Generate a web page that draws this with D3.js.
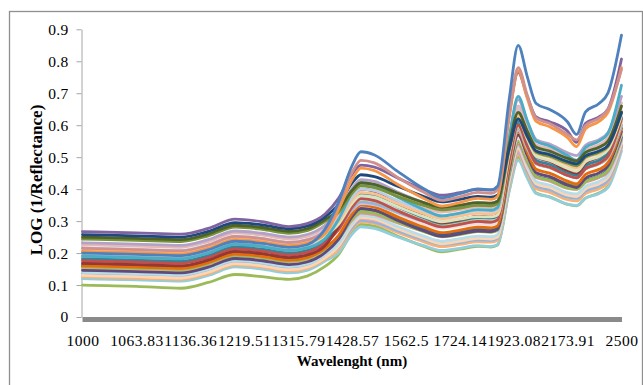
<!DOCTYPE html>
<html>
<head>
<meta charset="utf-8">
<script src="https://cdn.jsdelivr.net/npm/d3@7"></script>
<style>
  body { margin: 0; background: #fff; }
  text { font-family: "Liberation Serif", "Times New Roman", serif; fill: #000; }
</style>
</head>
<body>
<svg id="chart" width="643" height="385"></svg>
<script>
// Sample positions (wavenumber, cm-1); the category axis is evenly spaced in wavenumber
const wavenumbers = [10000, 9400, 8900, 8600, 8300, 8000, 7700, 7500, 7300, 7150, 7000, 6900, 6750, 6500, 6200, 6000, 5800, 5600, 5450, 5380, 5250, 5150, 5050, 4950, 4800, 4600, 4500, 4400, 4250, 4150, 4000];

// Category labels shown on the x axis (wavelength, nm)
const tickWavenumbers = [10000, 9400, 8800, 8200, 7600, 7000, 6400, 5800, 5200, 4600, 4000];
const tickLabels = ["1000", "1063.83", "1136.36", "1219.51", "1315.79", "1428.57", "1562.5", "1724.14", "1923.08", "2173.91", "2500"];
const yTicks = [0, 0.1, 0.2, 0.3, 0.4, 0.5, 0.6, 0.7, 0.8, 0.9];

// LOG(1/R) spectra, one array per sample
const s01 = [0.200,0.196,0.192,0.210,0.237,0.230,0.218,0.226,0.275,0.359,0.473,0.517,0.507,0.457,0.401,0.373,0.386,0.401,0.398,0.409,0.681,0.850,0.753,0.668,0.649,0.610,0.571,0.642,0.668,0.701,0.882];
const s02 = [0.215,0.211,0.207,0.225,0.252,0.245,0.233,0.241,0.270,0.353,0.452,0.490,0.482,0.438,0.390,0.365,0.376,0.390,0.387,0.397,0.633,0.780,0.695,0.622,0.605,0.571,0.554,0.599,0.622,0.650,0.775];
const s03 = [0.205,0.201,0.197,0.215,0.242,0.235,0.223,0.231,0.260,0.336,0.429,0.466,0.458,0.416,0.371,0.347,0.358,0.371,0.368,0.377,0.623,0.770,0.685,0.612,0.595,0.561,0.533,0.589,0.612,0.640,0.780];
const s04 = [0.267,0.263,0.259,0.277,0.306,0.298,0.283,0.292,0.322,0.371,0.446,0.475,0.469,0.436,0.399,0.381,0.389,0.399,0.397,0.404,0.636,0.765,0.690,0.626,0.611,0.581,0.546,0.606,0.626,0.651,0.807];
const s05 = [0.258,0.254,0.250,0.268,0.295,0.288,0.276,0.284,0.313,0.352,0.419,0.445,0.439,0.410,0.377,0.360,0.368,0.377,0.375,0.381,0.526,0.620,0.566,0.519,0.508,0.486,0.479,0.504,0.519,0.537,0.640];
const s06 = [0.250,0.246,0.242,0.260,0.287,0.280,0.268,0.276,0.305,0.335,0.396,0.420,0.415,0.388,0.358,0.343,0.350,0.358,0.356,0.362,0.539,0.640,0.582,0.531,0.519,0.496,0.488,0.515,0.531,0.550,0.660];
const s07 = [0.244,0.240,0.236,0.254,0.281,0.274,0.262,0.270,0.299,0.327,0.387,0.410,0.405,0.378,0.349,0.335,0.341,0.349,0.348,0.354,0.522,0.620,0.564,0.515,0.503,0.481,0.473,0.500,0.515,0.534,0.640];
const s08 = [0.190,0.186,0.182,0.200,0.227,0.220,0.208,0.216,0.245,0.305,0.388,0.420,0.413,0.376,0.336,0.316,0.325,0.336,0.334,0.342,0.560,0.690,0.615,0.550,0.535,0.505,0.490,0.530,0.550,0.575,0.725];
const s09 = [0.232,0.228,0.224,0.242,0.269,0.262,0.250,0.258,0.287,0.331,0.402,0.430,0.424,0.392,0.358,0.340,0.348,0.358,0.356,0.363,0.564,0.680,0.613,0.555,0.541,0.514,0.505,0.537,0.555,0.577,0.690];
const s10 = [0.226,0.222,0.218,0.236,0.263,0.256,0.244,0.252,0.281,0.319,0.386,0.412,0.406,0.377,0.344,0.328,0.335,0.344,0.342,0.349,0.547,0.660,0.595,0.539,0.526,0.499,0.491,0.521,0.539,0.560,0.670];
const s11 = [0.216,0.212,0.208,0.226,0.253,0.246,0.234,0.242,0.271,0.308,0.374,0.400,0.395,0.365,0.333,0.317,0.324,0.333,0.331,0.337,0.537,0.650,0.585,0.529,0.516,0.489,0.481,0.511,0.529,0.550,0.660];
const s12 = [0.210,0.206,0.202,0.220,0.247,0.240,0.228,0.236,0.265,0.300,0.365,0.390,0.385,0.356,0.324,0.308,0.316,0.324,0.323,0.329,0.521,0.630,0.567,0.512,0.500,0.475,0.466,0.496,0.512,0.533,0.645];
const s13 = [0.200,0.196,0.192,0.210,0.237,0.230,0.218,0.226,0.255,0.290,0.355,0.380,0.375,0.346,0.314,0.298,0.306,0.314,0.313,0.319,0.511,0.620,0.557,0.502,0.490,0.465,0.456,0.486,0.502,0.523,0.630];
const s14 = [0.168,0.164,0.160,0.178,0.205,0.198,0.186,0.194,0.223,0.284,0.368,0.400,0.393,0.356,0.315,0.295,0.304,0.315,0.313,0.321,0.510,0.630,0.561,0.501,0.487,0.459,0.450,0.482,0.501,0.524,0.640];
const s15 = [0.176,0.172,0.168,0.186,0.213,0.206,0.194,0.202,0.231,0.273,0.343,0.370,0.364,0.333,0.299,0.282,0.290,0.299,0.297,0.304,0.490,0.600,0.536,0.481,0.469,0.443,0.435,0.464,0.481,0.503,0.620];
const s16 = [0.182,0.178,0.174,0.192,0.219,0.212,0.200,0.208,0.237,0.284,0.357,0.385,0.379,0.346,0.311,0.293,0.301,0.311,0.309,0.316,0.499,0.610,0.546,0.490,0.477,0.452,0.443,0.473,0.490,0.512,0.625];
const s17 = [0.186,0.182,0.178,0.196,0.223,0.216,0.204,0.212,0.241,0.277,0.343,0.368,0.363,0.333,0.302,0.285,0.293,0.302,0.300,0.306,0.489,0.595,0.534,0.481,0.468,0.444,0.436,0.464,0.481,0.501,0.610];
const s18 = [0.192,0.188,0.184,0.202,0.229,0.222,0.210,0.218,0.247,0.276,0.337,0.360,0.355,0.328,0.299,0.284,0.291,0.299,0.297,0.303,0.487,0.590,0.530,0.479,0.467,0.443,0.435,0.463,0.479,0.499,0.600];
const s19 = [0.205,0.201,0.197,0.215,0.242,0.235,0.223,0.231,0.260,0.280,0.334,0.355,0.351,0.327,0.300,0.287,0.293,0.300,0.299,0.304,0.486,0.585,0.528,0.479,0.467,0.444,0.437,0.463,0.479,0.498,0.600];
const s20 = [0.160,0.156,0.152,0.170,0.197,0.190,0.178,0.186,0.215,0.255,0.323,0.350,0.344,0.314,0.281,0.264,0.272,0.281,0.279,0.285,0.471,0.580,0.517,0.462,0.450,0.425,0.416,0.446,0.462,0.483,0.590];
const s21 = [0.146,0.142,0.138,0.156,0.183,0.176,0.164,0.172,0.201,0.243,0.313,0.340,0.334,0.303,0.269,0.252,0.260,0.269,0.267,0.274,0.460,0.570,0.506,0.451,0.439,0.413,0.405,0.434,0.451,0.473,0.580];
const s22 = [0.196,0.192,0.188,0.206,0.233,0.226,0.214,0.222,0.251,0.271,0.324,0.345,0.341,0.317,0.291,0.277,0.284,0.291,0.289,0.294,0.465,0.560,0.505,0.458,0.447,0.425,0.418,0.444,0.458,0.476,0.575];
const s23 = [0.156,0.152,0.148,0.166,0.193,0.186,0.174,0.182,0.211,0.243,0.306,0.330,0.325,0.297,0.267,0.251,0.258,0.267,0.265,0.271,0.448,0.550,0.491,0.440,0.428,0.404,0.400,0.424,0.440,0.459,0.570];
const s24 = [0.162,0.158,0.154,0.172,0.199,0.192,0.180,0.188,0.217,0.249,0.311,0.335,0.330,0.302,0.272,0.257,0.264,0.272,0.270,0.276,0.449,0.550,0.492,0.441,0.430,0.406,0.403,0.426,0.441,0.461,0.562];
const s25 = [0.168,0.164,0.160,0.178,0.205,0.198,0.186,0.194,0.223,0.247,0.303,0.325,0.320,0.295,0.268,0.254,0.260,0.268,0.266,0.272,0.443,0.540,0.484,0.436,0.425,0.402,0.399,0.421,0.436,0.454,0.555];
const s26 = [0.140,0.136,0.132,0.150,0.177,0.170,0.158,0.166,0.195,0.229,0.293,0.318,0.313,0.284,0.253,0.237,0.245,0.253,0.251,0.258,0.432,0.535,0.476,0.424,0.413,0.389,0.385,0.409,0.424,0.444,0.550];
const s27 = [0.130,0.126,0.122,0.140,0.167,0.160,0.148,0.156,0.185,0.221,0.287,0.312,0.307,0.277,0.246,0.229,0.237,0.246,0.244,0.250,0.425,0.528,0.468,0.417,0.405,0.381,0.377,0.401,0.417,0.437,0.545];
const s28 = [0.150,0.146,0.142,0.160,0.187,0.180,0.168,0.176,0.205,0.229,0.286,0.308,0.303,0.278,0.250,0.236,0.243,0.250,0.249,0.254,0.424,0.520,0.465,0.416,0.405,0.383,0.379,0.402,0.416,0.435,0.540];
const s29 = [0.136,0.132,0.128,0.146,0.173,0.166,0.154,0.162,0.191,0.219,0.279,0.302,0.297,0.271,0.241,0.227,0.233,0.241,0.240,0.246,0.417,0.515,0.458,0.409,0.398,0.375,0.371,0.394,0.409,0.428,0.535];
const s30 = [0.126,0.122,0.118,0.136,0.163,0.156,0.144,0.152,0.181,0.212,0.274,0.298,0.293,0.265,0.235,0.220,0.227,0.235,0.234,0.240,0.409,0.508,0.451,0.401,0.390,0.367,0.363,0.386,0.401,0.420,0.530];
const s31 = [0.120,0.116,0.112,0.130,0.157,0.150,0.138,0.146,0.175,0.201,0.259,0.282,0.277,0.251,0.223,0.208,0.215,0.223,0.221,0.227,0.394,0.490,0.435,0.386,0.375,0.353,0.349,0.372,0.386,0.405,0.520];
const s32 = [0.100,0.096,0.090,0.108,0.133,0.126,0.118,0.128,0.158,0.195,0.263,0.290,0.284,0.254,0.221,0.204,0.212,0.221,0.219,0.225,0.396,0.500,0.440,0.388,0.376,0.352,0.348,0.372,0.388,0.408,0.532];
const s33 = [0.158,0.154,0.150,0.168,0.195,0.188,0.176,0.184,0.213,0.252,0.319,0.345,0.339,0.310,0.277,0.260,0.268,0.277,0.275,0.281,0.463,0.570,0.508,0.455,0.442,0.418,0.409,0.438,0.455,0.475,0.590];
const s34 = [0.212,0.208,0.204,0.222,0.249,0.242,0.230,0.238,0.267,0.292,0.350,0.372,0.367,0.342,0.314,0.299,0.306,0.314,0.312,0.318,0.503,0.605,0.546,0.495,0.483,0.460,0.452,0.479,0.495,0.515,0.615];

// Drawing order (later on top) and line colours
const seriesList = [s34, s33, s32, s31, s30, s29, s28, s27, s26, s25, s24, s23, s22, s21, s20, s19, s18, s17, s16, s15, s14, s13, s12, s11, s10, s09, s08, s07, s06, s05, s04, s03, s02, s01];
const seriesColors = ["#C6D9F1", "#76923C", "#9BBB59", "#92CDDC", "#F9B074", "#8EB4E3", "#E8A9A7", "#FCD5B5", "#B7DEE8", "#D99694", "#376092", "#9BBB59", "#F2DCDB", "#604A7B", "#E46C0A", "#CCC1DA", "#95B3D7", "#C3D69B", "#31859C", "#C0504D", "#953735", "#D7E4BD", "#FAC090", "#B9CDE5", "#E6B9B8", "#B3A2C7", "#4BACC6", "#77933C", "#4F6228", "#1F497D", "#8064A2", "#F79646", "#D0908D", "#4F81BD"];

const svg = d3.select("#chart");

// Outer chart frame
svg.append("rect")
  .attr("x", 9.5).attr("y", 11.5)
  .attr("width", 633).attr("height", 380)
  .attr("fill", "none").attr("stroke", "#8f8f8f").attr("stroke-width", 1.3);

const x = d3.scaleLinear().domain([10000, 4000]).range([82.5, 621.5]);
const y = d3.scaleLinear().domain([0, 0.9]).range([317, 29.3]);

// Y axis
const yAxis = svg.append("g")
  .attr("transform", "translate(81.5,0)")
  .call(d3.axisLeft(y).tickValues(yTicks).tickSize(5).tickSizeOuter(0).tickPadding(8)
    .tickFormat(d => d === 0 ? "0" : d3.format(".1f")(d)));
yAxis.select(".domain").attr("stroke", "#a6a6a6");
yAxis.selectAll(".tick line").attr("stroke", "#a6a6a6");
yAxis.selectAll("text").attr("font-size", 15.5).attr("letter-spacing", 0.3)
  .attr("font-family", "Liberation Serif, serif").attr("fill", "#000");

// Spectra
const line = d3.line()
  .x((d, i) => x(wavenumbers[i]))
  .y(d => y(d))
  .curve(d3.curveMonotoneX);

svg.append("g").selectAll("path")
  .data(seriesList)
  .join("path")
  .attr("d", line)
  .attr("fill", "none")
  .attr("stroke", (d, i) => seriesColors[i])
  .attr("stroke-width", 2.8)
  .attr("stroke-linejoin", "round")
  .attr("stroke-linecap", "round");

// X axis: thick baseline bar and category labels
svg.append("rect")
  .attr("x", x(10000)).attr("y", y(0))
  .attr("width", x(4000) - x(10000) + 0.5).attr("height", 5)
  .attr("fill", "#8a8a8a");

const xAxis = svg.append("g")
  .attr("transform", `translate(0,${y(0)})`)
  .call(d3.axisBottom(x).tickValues(tickWavenumbers).tickSize(0).tickPadding(18)
    .tickFormat((d, i) => tickLabels[i]));
xAxis.select(".domain").remove();
xAxis.selectAll("text").attr("font-size", 15.5).attr("letter-spacing", 0.45)
  .attr("font-family", "Liberation Serif, serif").attr("fill", "#000");

// Axis titles
svg.append("text")
  .attr("x", 352).attr("y", 366)
  .attr("text-anchor", "middle")
  .attr("font-size", 15).attr("font-weight", "bold")
  .text("Wavelenght (nm)");

svg.append("text")
  .attr("transform", "translate(42,180) rotate(-90)")
  .attr("text-anchor", "middle")
  .attr("font-size", 17).attr("font-weight", "bold")
  .text("LOG (1/Reflectance)");
</script>
</body>
</html>
